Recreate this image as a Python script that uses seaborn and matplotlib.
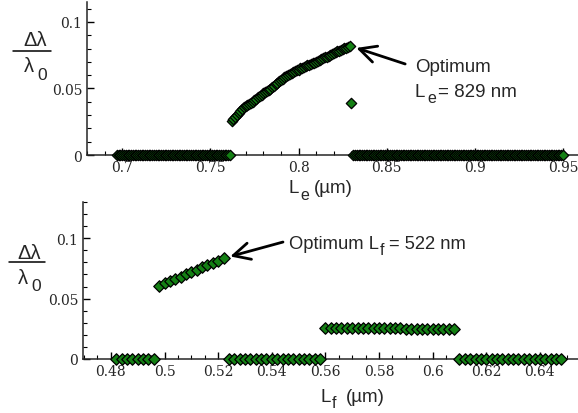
import numpy as np
import pandas as pd
import matplotlib
matplotlib.use('Agg')
import matplotlib.pyplot as plt
from matplotlib.lines import Line2D
from matplotlib.ticker import MultipleLocator
import seaborn as sns

# ---- data ----
# top panel: scan of L_e (um), sampled every 1 nm
le_zero_left = np.round(np.arange(0.697, 0.7615, 0.001), 3)
le_curve = np.round(np.arange(0.762, 0.8295, 0.001), 3)
le_curve_dl = [0.0256, 0.0271, 0.0287, 0.0300, 0.0316, 0.0330, 0.0347, 0.0359,
               0.0370, 0.0378, 0.0385, 0.0394, 0.0402, 0.0411, 0.0424, 0.0434,
               0.0442, 0.0451, 0.0464, 0.0470, 0.0478, 0.0487, 0.0497, 0.0508,
               0.0520, 0.0533, 0.0543, 0.0555, 0.0566, 0.0575, 0.0583, 0.0592,
               0.0600, 0.0606, 0.0614, 0.0621, 0.0629, 0.0636, 0.0642, 0.0651,
               0.0657, 0.0662, 0.0668, 0.0674, 0.0679, 0.0684, 0.0690, 0.0695,
               0.0701, 0.0706, 0.0713, 0.0719, 0.0727, 0.0733, 0.0739, 0.0746,
               0.0752, 0.0760, 0.0765, 0.0772, 0.0779, 0.0785, 0.0790, 0.0797,
               0.0803, 0.0808, 0.0815, 0.0821, 0.0827, 0.0833][:len(le_curve)]
le_single = [0.830]
le_single_dl = [0.039]
le_zero_right = np.round(np.arange(0.831, 0.9505, 0.001), 3)
le_opt = 0.829

# bottom panel: scan of L_f (um), sampled every 2 nm
lf_zero_a = np.round(np.arange(0.482, 0.4965, 0.002), 3)
lf_curve = np.round(np.arange(0.498, 0.5225, 0.002), 3)
lf_curve_dl = [0.0607, 0.0626, 0.0645, 0.0664, 0.0682, 0.0701, 0.0720,
               0.0739, 0.0758, 0.0777, 0.0796, 0.0815, 0.0834]
lf_zero_b = np.round(np.arange(0.524, 0.5585, 0.002), 3)
lf_flat = np.round(np.arange(0.560, 0.6085, 0.002), 3)
lf_flat_dl = [0.0257, 0.0257, 0.0256, 0.0256, 0.0256, 0.0255, 0.0255, 0.0255,
              0.0254, 0.0254, 0.0254, 0.0253, 0.0253, 0.0253, 0.0253, 0.0252,
              0.0252, 0.0252, 0.0251, 0.0251, 0.0251, 0.0251, 0.0250, 0.0250,
              0.0250]
lf_zero_c = np.round(np.arange(0.610, 0.6485, 0.002), 3)
lf_opt = 0.522

top = pd.DataFrame({
    'L': np.concatenate([le_zero_left, le_curve, le_single, le_zero_right]),
    'dl': np.concatenate([np.zeros(len(le_zero_left)), le_curve_dl,
                          le_single_dl, np.zeros(len(le_zero_right))]),
})
bot = pd.DataFrame({
    'L': np.concatenate([lf_zero_a, lf_curve, lf_zero_b, lf_flat, lf_zero_c]),
    'dl': np.concatenate([np.zeros(len(lf_zero_a)), lf_curve_dl,
                          np.zeros(len(lf_zero_b)), lf_flat_dl,
                          np.zeros(len(lf_zero_c))]),
})

sns.set_style('ticks')
plt.rcParams['font.family'] = ['Liberation Sans', 'DejaVu Sans']

W, H = 578, 414
fig = plt.figure(figsize=(W / 100, H / 100), dpi=100)
ax1 = fig.add_axes([87 / W, 1 - 156 / H, 491 / W, 153 / H])
ax2 = fig.add_axes([83 / W, 1 - 360 / H, 495 / W, 157 / H])

green = '#148014'
for ax, df, size in [(ax1, top, 28), (ax2, bot, 34)]:
    sns.scatterplot(data=df, x='L', y='dl', ax=ax, marker='D', s=size,
                    color=green, edgecolor='black', linewidth=0.9,
                    clip_on=False, zorder=3, legend=False)
    sns.despine(ax=ax)
    ax.patch.set_alpha(0)
    ax.spines['left'].set_linewidth(1.1)
    ax.spines['bottom'].set_linewidth(1.1)
    ax.tick_params(which='both', direction='in', color='black')
    ax.tick_params(which='major', length=5, width=1)
    ax.tick_params(which='minor', length=3, width=0.8)
    ax.yaxis.set_minor_locator(MultipleLocator(0.01))
    ax.set_yticks([0, 0.05, 0.1], ['0', '0.05', '0.1'],
                  family='DejaVu Serif', fontsize=10)
    ax.set_ylabel('')
    ax.set_xlabel('')

ax1.set_xlim(0.68, 0.9585)
ax1.set_ylim(0, 0.115)
ax1.set_xticks([0.7, 0.75, 0.8, 0.85, 0.9, 0.95],
               ['0.7', '0.75', '0.8', '0.85', '0.9', '0.95'],
               family='DejaVu Serif', fontsize=10)
ax1.xaxis.set_minor_locator(MultipleLocator(0.01))

ax2.set_xlim(0.4696, 0.6542)
ax2.set_ylim(0, 0.13)
ax2.set_xticks([0.48, 0.5, 0.52, 0.54, 0.56, 0.58, 0.6, 0.62, 0.64],
               ['0.48', '0.5', '0.52', '0.54', '0.56', '0.58', '0.6', '0.62', '0.64'],
               family='DejaVu Serif', fontsize=10)
ax2.xaxis.set_minor_locator(MultipleLocator(0.005))


def px(x, y):
    return x / W, 1 - y / H


def sub_text(x, y, main, sub, rest, x_sub, x_rest, dy, size=13.5, subsize=11.5):
    # main text, big lowered subscript, then the rest on the main baseline
    fig.text(*px(x, y), main, fontsize=size, ha='left', va='baseline')
    fig.text(*px(x_sub, y + dy), sub, fontsize=subsize, ha='left', va='baseline')
    fig.text(*px(x_rest, y), rest, fontsize=size, ha='left', va='baseline')


def frac_label(cx_top, cy_top, x0, x1, yl, cx_l, cy_l, cx_0, cy_0):
    fig.text(*px(cx_top, cy_top), 'Δλ', fontsize=14.5, ha='center', va='center')
    fig.add_artist(Line2D([x0 / W, x1 / W], [1 - yl / H, 1 - yl / H],
                          color='black', lw=1.1))
    fig.text(*px(cx_l, cy_l), 'λ', fontsize=14.5, ha='center', va='center')
    fig.text(*px(cx_0, cy_0), '0', fontsize=12.5, ha='center', va='center')


# axis labels
sub_text(288, 193, 'L', 'e', '(µm)', 300, 314, 7)
sub_text(321, 402, 'L', 'f', '(µm)', 332, 346, 6)

# y labels drawn as a fraction
frac_label(35, 41, 13, 51, 52, 29, 67, 42, 75)
frac_label(29, 254, 9, 45, 263, 23, 279, 36, 287)

# annotations
i1 = top['L'].sub(le_opt).abs().idxmin()
ax1.annotate('', xy=(top['L'][i1], top['dl'][i1]), xycoords='data',
             xytext=(0.648, 0.595), textcoords='axes fraction',
             arrowprops=dict(arrowstyle='->', lw=2, color='black',
                             mutation_scale=30, shrinkA=0, shrinkB=5))
fig.text(*px(415, 72), 'Optimum', fontsize=13.5, ha='left', va='baseline')
sub_text(415, 97, 'L', 'e', '= 829 nm', 427, 438, 6)

i2 = bot['L'].sub(lf_opt).abs().idxmin()
ax2.annotate('', xy=(bot['L'][i2], bot['dl'][i2]), xycoords='data',
             xytext=(0.404, 0.745), textcoords='axes fraction',
             arrowprops=dict(arrowstyle='->', lw=2, color='black',
                             mutation_scale=30, shrinkA=0, shrinkB=5))
sub_text(289, 249, 'Optimum L', 'f', '= 522 nm', 380, 389, 6, size=13.2)

fig.savefig('out.png', dpi=100)
